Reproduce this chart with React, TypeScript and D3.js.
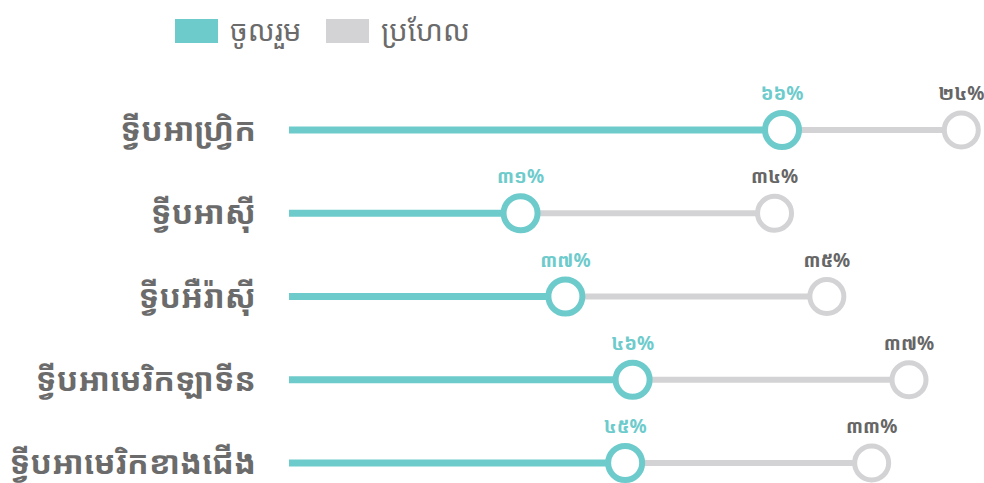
import React, { useRef, useEffect } from 'react';
import * as d3 from 'd3';

const categories = [
  'ទ្វីបអាហ្វ្រិក',
  'ទ្វីបអាស៊ី',
  'ទ្វីបអឺរ៉ាស៊ី',
  'ទ្វីបអាមេរិកឡាទីន',
  'ទ្វីបអាមេរិកខាងជើង',
];
const joined = [66, 31, 37, 46, 45];
const approx = [24, 34, 35, 37, 33];
const legendLabels = ['ចូលរួម', 'ប្រហែល'];

const TEAL = '#6ecbcc';
const GREY = '#d3d3d5';
const TEXT = '#6b6b6b';
const FONT = '"Noto Sans Khmer", "Khmer OS", "Kantumruy", "Noto Sans", sans-serif';

const khmerDigits = '០១២៣៤៥៦៧៨៩';
const toKhmer = (n: number) =>
  String(n).split('').map(c => khmerDigits[+c]).join('') + '%';

const App = () => {
  const ref = useRef<SVGSVGElement>(null);

  useEffect(() => {
    const svg = d3.select(ref.current);
    svg.selectAll('*').remove();

    const x = d3.scaleLinear().domain([0, 100]).range([289, 1036]);
    const y = d3.scalePoint().domain(categories).range([130, 463]);

    // legend
    const legend = svg.append('g').attr('font-family', FONT);
    [TEAL, GREY].forEach((c, i) => {
      const lx = 175 + i * 151;
      legend.append('rect')
        .attr('x', lx).attr('y', 19)
        .attr('width', 43).attr('height', 24)
        .attr('fill', c);
      legend.append('text')
        .attr('x', lx + 55).attr('y', 41)
        .attr('font-size', 29)
        .attr('fill', TEXT)
        .text(legendLabels[i]);
    });

    const rows = svg.append('g');
    categories.forEach((cat, i) => {
      const cy = y(cat)!;
      const x1 = x(joined[i]);
      const x2 = x(joined[i] + approx[i]);

      rows.append('text')
        .attr('x', 256).attr('y', cy + 11)
        .attr('text-anchor', 'end')
        .attr('font-family', FONT)
        .attr('font-weight', 'bold')
        .attr('font-size', 32)
        .attr('fill', TEXT)
        .text(cat);

      rows.append('line')
        .attr('x1', x1).attr('x2', x2)
        .attr('y1', cy).attr('y2', cy)
        .attr('stroke', GREY).attr('stroke-width', 6);
      rows.append('line')
        .attr('x1', x(0)).attr('x2', x1)
        .attr('y1', cy).attr('y2', cy)
        .attr('stroke', TEAL).attr('stroke-width', 7);

      rows.append('circle')
        .attr('cx', x2).attr('cy', cy).attr('r', 17)
        .attr('fill', '#fff').attr('stroke', GREY).attr('stroke-width', 5);
      rows.append('circle')
        .attr('cx', x1).attr('cy', cy).attr('r', 17)
        .attr('fill', '#fff').attr('stroke', TEAL).attr('stroke-width', 6);

      rows.append('text')
        .attr('x', x1).attr('y', cy - 30)
        .attr('text-anchor', 'middle')
        .attr('font-family', FONT)
        .attr('font-weight', 'bold')
        .attr('font-size', 19)
        .attr('fill', TEAL)
        .text(toKhmer(joined[i]));
      rows.append('text')
        .attr('x', x2).attr('y', cy - 30)
        .attr('text-anchor', 'middle')
        .attr('font-family', FONT)
        .attr('font-weight', 'bold')
        .attr('font-size', 19)
        .attr('fill', '#666666')
        .text(toKhmer(approx[i]));
    });
  }, []);

  return (
    <svg ref={ref} width={984} height={483}
      style={{ position: 'absolute', left: 0, top: 0, background: '#fff' }} />
  );
};

export default App;
